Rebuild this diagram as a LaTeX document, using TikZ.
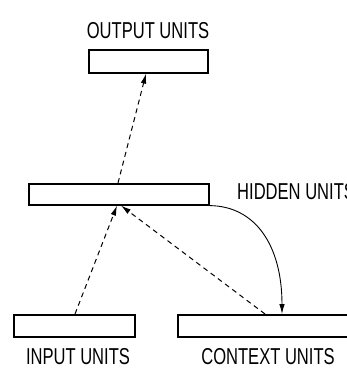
\documentclass[tikz,border=0pt]{standalone}
\usepackage{fontspec}
\setmainfont{Liberation Sans}
\usetikzlibrary{arrows.meta}
\tikzset{
  unitbox/.style={draw, line width=1.6pt, inner sep=0pt, anchor=north west},
  lbl/.style={inner sep=0pt, font=\fontsize{23}{23}\selectfont},
  feed/.style={dashed, dash pattern=on 5pt off 4pt, line width=1pt, -{Latex[length=10pt,width=5.5pt]}},
  recur/.style={line width=0.9pt, -{Latex[length=10pt,width=5.5pt]}}
}
\newcommand{\narrow}[1]{\scalebox{0.72}[1]{#1}}
\begin{document}
\begin{tikzpicture}[x=1pt,y=-1pt]
  \useasboundingbox (0,0) rectangle (347,369);
  \clip (0,0) rectangle (347,369);
  % layer boxes
  \node[unitbox, minimum width=119pt, minimum height=23pt] (out) at (88,49) {};
  \node[unitbox, minimum width=180pt, minimum height=21pt] (hid) at (28,183) {};
  \node[unitbox, minimum width=121pt, minimum height=22pt] (inp) at (13,314) {};
  \node[unitbox, minimum width=190pt, minimum height=22pt] (ctx) at (177,314) {};
  % labels
  \node[lbl] (outl) at (148,31) {\narrow{OUTPUT UNITS}};
  \node[lbl, anchor=west] (hidl) at (237,192) {\narrow{HIDDEN UNITS}};
  \node[lbl] (inpl) at (78,357) {\narrow{INPUT UNITS}};
  \node[lbl] (ctxl) at (268,357) {\narrow{CONTEXT UNITS}};
  % connections
  \draw[feed] ([xshift=90pt]hid.north west) -- ([xshift=58pt]out.south west);
  \draw[feed] ([xshift=62pt]inp.north west) -- ([xshift=89pt]hid.south west);
  \draw[feed] ([xshift=88pt]ctx.north west) -- ([xshift=93pt]hid.south west);
  \draw[recur] (hid.south east) .. controls (255,206) and (282,245) .. ([xshift=105pt]ctx.north west);
\end{tikzpicture}
\end{document}
